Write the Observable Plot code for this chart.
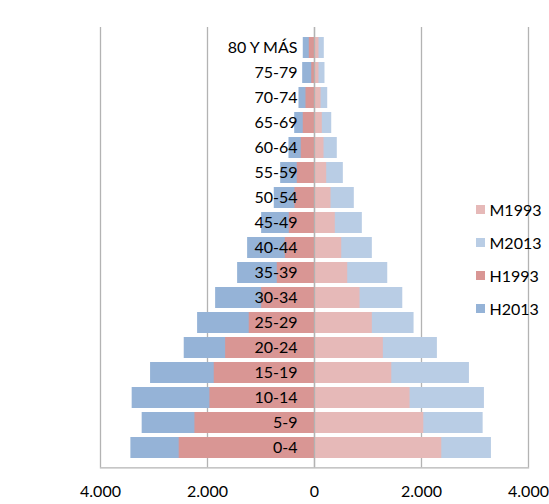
<!DOCTYPE html>
<html>
<head>
<meta charset="utf-8">
<script src="https://cdn.jsdelivr.net/npm/d3@7"></script>
<script src="https://cdn.jsdelivr.net/npm/@observablehq/plot@0.6"></script>
<style>
  html, body { margin: 0; padding: 0; background: #fff; }
  #wrap { position: relative; width: 549px; height: 504px; font-family: Lato, "Open Sans", sans-serif; }
  .legend { position: absolute; left: 475.5px; top: 0; }
  .item { position: absolute; left: 0; height: 20px; display: flex; align-items: center; white-space: nowrap; font-size: 16px; color: #000; }
  .sw { width: 9px; height: 9px; margin-right: 5px; flex: none; }
</style>
</head>
<body>
<div id="wrap"></div>
<script>
// Age groups, bottom to top
const ages = ["0-4","5-9","10-14","15-19","20-24","25-29","30-34","35-39","40-44","45-49","50-54","55-59","60-64","65-69","70-74","75-79","80 Y MÁS"];
// Men (H) and women (M), thousands of persons, same order as ages
const h1993 = [2529, 2235, 1955, 1874, 1661, 1220, 988, 696, 546, 471, 365, 322, 247, 210, 159, 52, 97];
const h2013 = [3432, 3221, 3408, 3064, 2435, 2185, 1848, 1437, 1250, 988, 752, 632, 477, 370, 290, 221, 210];
const m1993 = [2379, 2043, 1786, 1444, 1287, 1081, 851, 621, 509, 389, 309, 228, 178, 146, 122, 84, 84];
const m2013 = [3307, 3152, 3176, 2896, 2297, 1861, 1650, 1369, 1081, 894, 744, 539, 426, 322, 247, 196, 183];
const xTicks = [-4000, -2000, 0, 2000, 4000];
const seriesNames = ["M1993", "M2013", "H1993", "H2013"];
const seriesColors = ["#E6B9B8", "#B9CDE5", "#D99694", "#95B3D7"];

const rows = ages.map((age, i) => ({age, h1993: h1993[i], h2013: h2013[i], m1993: m1993[i], m2013: m2013[i]}));
const fmt = d => d3.format(",")(Math.abs(d)).replace(/,/g, ".");
const grid = "#b3b3b3";

const chart = Plot.plot({
  width: 549,
  height: 504,
  marginLeft: 100,
  marginRight: 21,
  marginTop: 27,
  marginBottom: 36.7,
  style: {fontFamily: "Lato, 'Open Sans', sans-serif", fontSize: "16px", color: "#000", background: "#fff", overflow: "visible"},
  x: {domain: [-4000, 4000]},
  y: {domain: ages.slice().reverse(), paddingInner: 0.18, paddingOuter: 0.09, axis: null},
  marks: [
    Plot.gridX(xTicks, {stroke: grid, strokeOpacity: 1, strokeWidth: 1.3}),
    Plot.barX(rows, {y: "age", x1: 0, x2: "m2013", fill: seriesColors[1]}),
    Plot.barX(rows, {y: "age", x1: 0, x2: d => -d.h2013, fill: seriesColors[3]}),
    Plot.barX(rows, {y: "age", x1: 0, x2: "m1993", fill: seriesColors[0]}),
    Plot.barX(rows, {y: "age", x1: 0, x2: d => -d.h1993, fill: seriesColors[2]}),
    Plot.ruleX([0], {stroke: grid, strokeWidth: 1.3}),
    Plot.text(rows, {y: "age", x: () => 0, dx: -17, text: "age", textAnchor: "end", fontSize: 16, fill: "#000"}),
    Plot.axisX(xTicks, {tickSize: 0, tickPadding: 18, fontSize: 16, tickFormat: fmt, fill: "#000"}),
    Plot.frame({anchor: "bottom", stroke: grid, strokeWidth: 1.3})
  ]
});

const wrap = document.getElementById("wrap");
wrap.appendChild(chart);
const leg = document.createElement("div");
leg.className = "legend";
const centers = [209, 242, 275.5, 308.5];
seriesNames.forEach((name, i) => {
  const it = document.createElement("div");
  it.className = "item";
  it.style.top = (centers[i] - 10) + "px";
  const sw = document.createElement("span");
  sw.className = "sw";
  sw.style.background = seriesColors[i];
  const t = document.createElement("span");
  t.textContent = name;
  it.appendChild(sw);
  it.appendChild(t);
  leg.appendChild(it);
});
wrap.appendChild(leg);
</script>
</body>
</html>
